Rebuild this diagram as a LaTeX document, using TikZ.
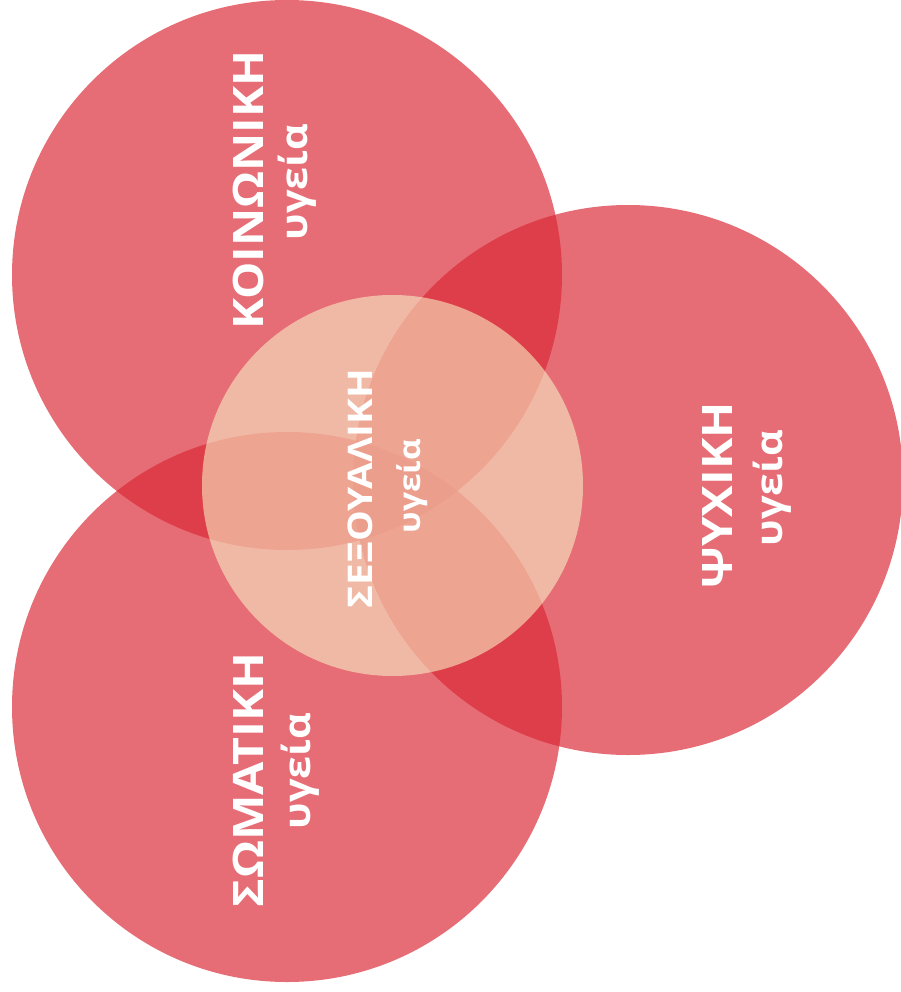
\documentclass[tikz,border=0pt]{standalone}
\usepackage{fontspec}
\setmainfont{Open Sans}
\newcommand\widetxt[2]{\scalebox{#1}[1]{#2}}
\begin{document}
\begin{tikzpicture}[x=1pt,y=-1pt,
  bigcirc/.style={fill={rgb,255:red,218;green,40;blue,52}, fill opacity=0.68},
  midcirc/.style={fill={rgb,255:red,250;green,248;blue,205}, fill opacity=0.55},
  capslbl/.style={text=white, font=\bfseries\fontsize{42}{42}\selectfont, rotate=90, inner sep=0pt},
  smalllbl/.style={text=white, font=\bfseries\fontsize{37}{37}\selectfont, rotate=90, inner sep=0pt},
  midcaps/.style={text=white, font=\bfseries\fontsize{34}{34}\selectfont, rotate=90, inner sep=0pt},
  midsmall/.style={text=white, font=\bfseries\fontsize{30}{30}\selectfont, rotate=90, inner sep=0pt}]
\useasboundingbox (0,0) rectangle (901,992);
\fill[bigcirc] (287,275) circle[radius=275pt];
\fill[bigcirc] (628,480) circle[radius=275pt];
\fill[bigcirc] (287,707) circle[radius=275pt];
\fill[midcirc] (392.5,485.5) circle[radius=190.5pt];
\node[capslbl] (k1) at (248,190) {\widetxt{1.12}{ΚΟΙΝΩΝΙΚΗ}};
\node[smalllbl] (k2) at (297,182) {\widetxt{1.12}{υγεία}};
\node[capslbl] (p1) at (717,495) {\widetxt{1.13}{ΨΥΧΙΚΗ}};
\node[smalllbl] (p2) at (772,488) {\widetxt{1.12}{υγεία}};
\node[capslbl] (s1) at (248,780) {\widetxt{1.15}{ΣΩΜΑΤΙΚΗ}};
\node[smalllbl] (s2) at (300,771) {\widetxt{1.12}{υγεία}};
\node[midcaps] (x1) at (360,489) {\widetxt{1.14}{ΣΕΞΟΥΑΛΙΚΗ}};
\node[midsmall] (x2) at (412,486) {\widetxt{1.12}{υγεία}};
\end{tikzpicture}
\end{document}
